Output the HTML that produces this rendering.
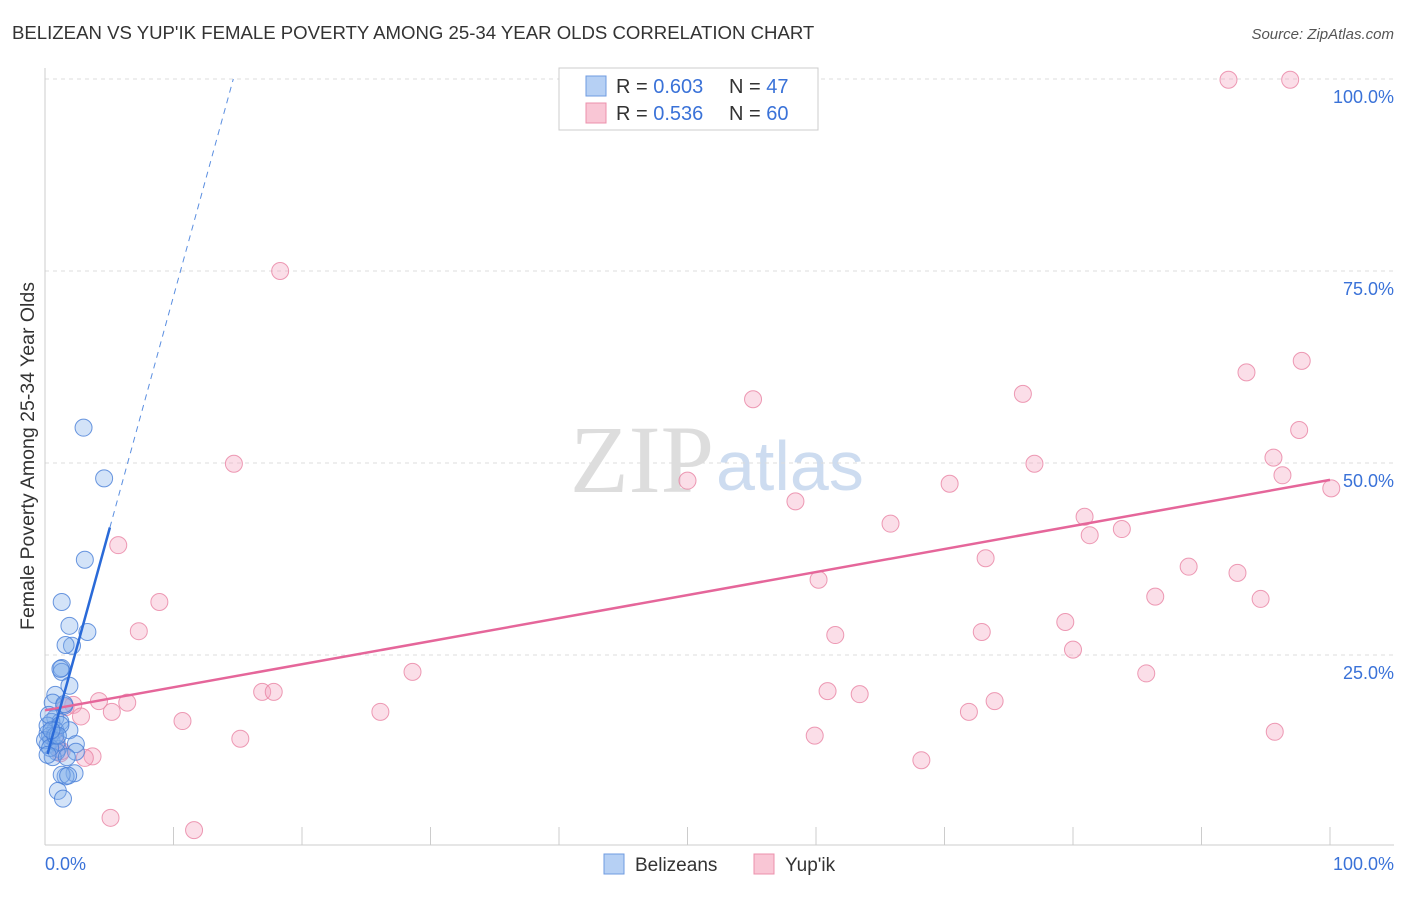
<!DOCTYPE html>
<html><head><meta charset="utf-8"><style>
body{margin:0;background:#fff;font-family:"Liberation Sans",sans-serif}
</style></head><body>
<svg width="1406" height="892" xmlns="http://www.w3.org/2000/svg" font-family="Liberation Sans, sans-serif">
<text x="12" y="39" font-size="18.6" fill="#333">BELIZEAN VS YUP'IK FEMALE POVERTY AMONG 25-34 YEAR OLDS CORRELATION CHART</text>
<text x="1394" y="39" font-size="15" fill="#555" font-style="italic" text-anchor="end">Source: ZipAtlas.com</text>
<text x="714" y="492" font-size="96" fill="#ddd" font-family="Liberation Serif, serif" text-anchor="end">ZIP</text>
<text x="716" y="490" font-size="70" fill="#cddcf0">atlas</text>
<g id="grid"></g>
<line x1="45" y1="68" x2="45" y2="845" stroke="#ccc"/>
<line x1="45" y1="845" x2="1394" y2="845" stroke="#ccc"/>
<g id="ticks"></g>
<text x="28" y="456" font-size="19.5" fill="#333" text-anchor="middle" transform="rotate(-90 28 456)" dy="6">Female Poverty Among 25-34 Year Olds</text>
<text x="45" y="870" font-size="18" fill="#3a72d8">0.0%</text>
<text x="1394" y="870" font-size="18" fill="#3a72d8" text-anchor="end">100.0%</text>
<g id="pts"></g>
<g id="lines"></g>
<g>
<rect x="559" y="68" width="259" height="62" fill="#fff" stroke="#ccc"/>
<rect x="586" y="76" width="20" height="20" fill="#b6d0f4" stroke="#6f9be0"/>
<rect x="586" y="103" width="20" height="20" fill="#f9c6d5" stroke="#ec90ac"/>
<text x="616" y="93" font-size="20" fill="#333">R = <tspan fill="#3a72d8">0.603</tspan></text>
<text x="729" y="93" font-size="20" fill="#333">N = <tspan fill="#3a72d8">47</tspan></text>
<text x="616" y="120" font-size="20" fill="#333">R = <tspan fill="#3a72d8">0.536</tspan></text>
<text x="729" y="120" font-size="20" fill="#333">N = <tspan fill="#3a72d8">60</tspan></text>
</g>
<g>
<rect x="604" y="854" width="20" height="20" fill="#b6d0f4" stroke="#6f9be0"/>
<text x="635" y="871" font-size="19" fill="#333">Belizeans</text>
<rect x="754" y="854" width="20" height="20" fill="#f9c6d5" stroke="#ec90ac"/>
<text x="785" y="871" font-size="19" fill="#333">Yup'ik</text>
</g>
</svg>
<script>
const yTicks=[25,50,75,100];
const yTickLabels=["25.0%","50.0%","75.0%","100.0%"];
const xTicks=[0,10,20,30,40,50,60,70,80,90,100];
const blueX=[3.0,4.6,3.1,1.3,1.9,3.3,2.1,1.6,1.3,1.3,1.2,1.9,0.8,0.6,1.5,0.8,0.5,1.2,0.8,1.9,0.2,0.5,0.2,2.4,1.0,0.9,2.4,2.3,1.6,1.3,1.8,1.0,1.4,0.4,0.2,0.9,0.3,0.6,0.0,0.4,0.8,1.5,1.2,1.7,0.2,1.0,0.5];
const blueY=[54.6,48.0,37.4,31.9,28.8,28.0,26.2,26.3,23.3,22.8,23.2,21.0,19.8,18.8,18.4,16.8,16.3,16.3,15.2,15.2,14.8,13.9,13.3,13.4,12.8,12.4,12.4,9.6,9.2,9.4,9.3,7.3,6.3,14.5,15.8,13.6,17.2,11.7,13.9,12.9,14.5,18.6,15.9,11.7,12.0,14.5,15.2];
const pinkX=[92.1,96.9,18.3,97.8,93.5,55.1,76.1,97.6,14.7,77.0,95.6,96.3,100.1,50.0,70.4,58.4,65.8,80.9,81.3,83.8,5.7,73.2,89.0,60.2,92.8,86.4,94.6,8.9,7.3,61.5,72.9,79.4,80.0,28.6,85.7,16.9,17.8,60.9,63.4,4.2,6.4,2.2,1.6,2.8,5.2,26.1,10.7,71.9,73.9,15.2,59.9,95.7,3.7,3.1,1.2,68.2,5.1,11.6,1.3,0.8];
const pinkY=[99.9,99.9,75.0,63.3,61.8,58.3,59.0,54.3,49.9,49.9,50.7,48.4,46.7,47.7,47.3,45.0,42.1,43.0,40.6,41.4,39.3,37.6,36.5,34.8,35.7,32.6,32.3,31.9,28.1,27.6,28.0,29.3,25.7,22.8,22.6,20.2,20.2,20.3,19.9,19.0,18.8,18.5,18.2,17.0,17.6,17.6,16.4,17.6,19.0,14.1,14.5,15.0,11.8,11.6,12.2,11.3,3.8,2.2,12.5,13.9];
const blueA=10.9, blueB=6.08, pinkA=17.8, pinkB=0.30;
const X=v=>45+v*12.85, Y=v=>847-v*7.68;
const NS="http://www.w3.org/2000/svg";
function mk(tag,attrs,parent){const e=document.createElementNS(NS,tag);for(const k in attrs)e.setAttribute(k,attrs[k]);document.getElementById(parent).appendChild(e);return e;}
yTicks.forEach((t,i)=>{
 const l=mk('line',{x1:45,x2:1394,y1:Y(t),y2:Y(t),stroke:'#ddd','stroke-dasharray':'4,4'},'grid');
 
 
 const tx=mk('text',{x:1394,y:Y(t)+24,'font-size':18,fill:'#3a72d8','text-anchor':'end'},'grid');
 tx.textContent=yTickLabels[i];
 
 
});
xTicks.forEach(t=>{
 const l=mk('line',{x1:X(t),x2:X(t),y1:827,y2:845,stroke:'#ccc'},'ticks');
 
 
});
pinkX.forEach((x,i)=>{
 const c=mk('circle',{cx:X(x),cy:Y(pinkY[i]),r:8.5,fill:'rgba(244,160,188,0.35)',stroke:'rgba(232,130,163,0.8)','stroke-width':1},'pts');
 
 
});
blueX.forEach((x,i)=>{
 const c=mk('circle',{cx:X(x),cy:Y(blueY[i]),r:8.5,fill:'rgba(130,175,235,0.35)',stroke:'rgba(70,125,215,0.8)','stroke-width':1},'pts');
 
 
});
let l=mk('line',{x1:X(0),y1:Y(pinkA),x2:X(100),y2:Y(pinkA+pinkB*100),stroke:'#e5669a','stroke-width':2.5},'lines');


l=mk('line',{x1:X(0.2),y1:Y(blueA+blueB*0.2),x2:X(5.05),y2:Y(blueA+blueB*5.05),stroke:'#2a6ad8','stroke-width':2.5},'lines');


const xe=(100-blueA)/blueB;
l=mk('line',{x1:X(5.05),y1:Y(blueA+blueB*5.05),x2:X(xe),y2:Y(blueA+blueB*xe),stroke:'#5a8ee0','stroke-width':1,'stroke-dasharray':'6,5'},'lines');


</script>
</body></html>
